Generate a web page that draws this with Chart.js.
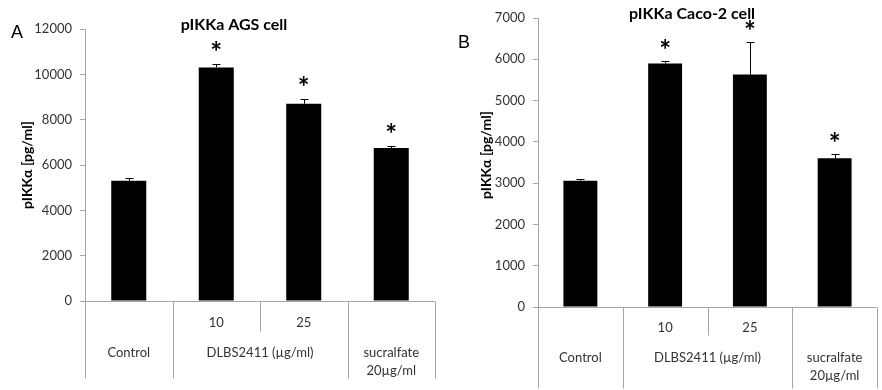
<!DOCTYPE html>
<html>
<head>
<meta charset="utf-8">
<script src="https://cdn.jsdelivr.net/npm/chart.js@4.4.1/dist/chart.umd.min.js"></script>
<style>
  html, body { margin: 0; padding: 0; background: #fff; }
  #wrap { position: relative; width: 882px; height: 390px; }
  .box { position: absolute; top: 0; width: 441px; height: 390px; }
</style>
</head>
<body>
<div id="wrap">
  <div class="box" style="left:0"><canvas id="chartA" width="441" height="390"></canvas></div>
  <div class="box" style="left:441px"><canvas id="chartB" width="441" height="390"></canvas></div>
</div>
<script>
// ---- data ----
const categories = ['Control', 'DLBS2411 10', 'DLBS2411 25', 'sucralfate 20'];
const doseLabels = ['', '10', '25', ''];
const groupLabels = [['Control'], ['DLBS2411 (µg/ml)'], ['sucralfate', '20µg/ml']];
const groupSpans = [[0, 0], [1, 2], [3, 3]];

const agsValues = [5300, 10300, 8700, 6750];
const agsErrors = [130, 150, 200, 90];
const agsSignificant = [false, true, true, true];
const agsTicks = [0, 2000, 4000, 6000, 8000, 10000, 12000];

const cacoValues = [3060, 5900, 5630, 3600];
const cacoErrors = [30, 50, 780, 110];
const cacoSignificant = [false, true, true, true];
const cacoTicks = [0, 1000, 2000, 3000, 4000, 5000, 6000, 7000];

const yTitle = 'pIKKα [pg/ml]';

// ---- drawing helpers ----
const FONT = 'Lato, "Liberation Sans", sans-serif';
const AXIS_COLOR = '#a6a6a6';
const TEXT_COLOR = '#333333';

function line(ctx, x1, y1, x2, y2) {
  ctx.beginPath(); ctx.moveTo(x1, y1); ctx.lineTo(x2, y2); ctx.stroke();
}

const annotPlugin = {
  id: 'annot',
  afterDatasetsDraw(chart, args, o) {
    const ctx = chart.ctx;
    const xs = chart.scales.x, ys = chart.scales.y;
    const ca = chart.chartArea;
    const meta = chart.getDatasetMeta(0);
    const vals = chart.data.datasets[0].data;
    ctx.save();
    // baseline (x axis)
    const base = Math.round(ys.getPixelForValue(0)) + 0.5;
    ctx.strokeStyle = AXIS_COLOR; ctx.lineWidth = 1;
    line(ctx, ca.left, base, ca.right, base);
    // category separators
    const n = vals.length;
    const bounds = [ca.left];
    for (let i = 1; i < n; i++) bounds.push((xs.getPixelForValue(i - 1) + xs.getPixelForValue(i)) / 2);
    bounds.push(ca.right);
    const groupStarts = groupSpans.map(s => s[0]).concat([n]);
    bounds.forEach((bx, i) => {
      const full = groupStarts.includes(i);
      const xx = Math.round(bx) + 0.5;
      line(ctx, xx, base, xx, base + (full ? o.sepFull : o.sepShort));
    });
    // labels
    ctx.fillStyle = TEXT_COLOR;
    ctx.font = '13px ' + FONT;
    ctx.textAlign = 'center'; ctx.textBaseline = 'middle';
    doseLabels.forEach((t, i) => { if (t) ctx.fillText(t, xs.getPixelForValue(i), base + o.row1); });
    groupLabels.forEach((lines, g) => {
      const s = groupSpans[g];
      const cx = (xs.getPixelForValue(s[0]) + xs.getPixelForValue(s[1])) / 2;
      lines.forEach((t, k) => ctx.fillText(t, cx, base + (k === 0 ? o.row2 : o.row3)));
    });
    // error bars and asterisks
    ctx.strokeStyle = '#000'; ctx.lineWidth = 1;
    meta.data.forEach((bar, i) => {
      const top = ys.getPixelForValue(vals[i] + o.errors[i]);
      const bx = Math.round(bar.x) + 0.5;
      line(ctx, bx, bar.y, bx, top);
      line(ctx, bx - 4, Math.round(top) + 0.5, bx + 4, Math.round(top) + 0.5);
      if (o.sig[i]) {
        ctx.fillStyle = '#000';
        ctx.font = 'bold 28px ' + FONT;
        ctx.textAlign = 'center';
        ctx.textBaseline = 'alphabetic';
        const m = ctx.measureText('*');
        const cy = top - o.starGap;
        ctx.fillText('*', bar.x, cy + (m.actualBoundingBoxAscent - m.actualBoundingBoxDescent) / 2);
      }
    });
    // title
    ctx.fillStyle = '#000';
    ctx.font = 'bold 16px ' + FONT;
    ctx.textAlign = 'center'; ctx.textBaseline = 'middle';
    ctx.fillText(o.title, o.titleX, o.titleY);
    // panel letter
    ctx.font = '18px "Liberation Sans", Arial, sans-serif';
    ctx.fillText(o.letter, o.letterX, o.letterY);
    // y title
    ctx.save();
    ctx.translate(o.yTitleX, o.yTitleY);
    ctx.rotate(-Math.PI / 2);
    ctx.font = 'bold 14px ' + FONT;
    ctx.fillText(yTitle, 0, 0);
    ctx.restore();
    ctx.restore();
  }
};

function makeChart(id, values, errors, sig, ticks, cfg) {
  return new Chart(document.getElementById(id), {
    type: 'bar',
    data: {
      labels: categories,
      datasets: [{ data: values, backgroundColor: '#000', borderWidth: 0,
                   barPercentage: 0.4, categoryPercentage: 1.0 }]
    },
    options: {
      responsive: false, animation: false,
      layout: { padding: { left: 0, top: cfg.top, right: cfg.right, bottom: cfg.bottom } },
      plugins: {
        legend: { display: false }, tooltip: { enabled: false },
        annot: Object.assign({ errors: errors, sig: sig }, cfg)
      },
      scales: {
        x: { display: false },
        y: {
          min: ticks[0], max: ticks[ticks.length - 1],
          afterBuildTicks: s => { s.ticks = ticks.map(v => ({ value: v })); },
          afterFit: s => { s.width = cfg.yWidth; },
          border: { display: true, color: AXIS_COLOR, width: 1 },
          grid: { drawOnChartArea: false, drawTicks: true, tickLength: 5, color: AXIS_COLOR },
          ticks: { color: TEXT_COLOR, font: { family: FONT, size: 13 }, padding: 8,
                   callback: v => String(v) }
        }
      }
    },
    plugins: [annotPlugin]
  });
}

makeChart('chartA', agsValues, agsErrors, agsSignificant, agsTicks, {
  top: 29, right: 6, bottom: 89, yWidth: 85,
  row1: 21, row2: 51, row3: 69, sepFull: 77, sepShort: 30, starGap: 18,
  title: 'pIKKa AGS cell', titleX: 234, titleY: 25,
  letter: 'A', letterX: 17, letterY: 33,
  yTitleX: 27, yTitleY: 165
});
makeChart('chartB', cacoValues, cacoErrors, cacoSignificant, cacoTicks, {
  top: 18, right: 5, bottom: 83, yWidth: 97,
  row1: 20, row2: 50, row3: 68, sepFull: 81, sepShort: 28, starGap: 17,
  title: 'pIKKa Caco-2 cell', titleX: 251, titleY: 14,
  letter: 'B', letterX: 23, letterY: 43,
  yTitleX: 45, yTitleY: 155
});
</script>
</body>
</html>
